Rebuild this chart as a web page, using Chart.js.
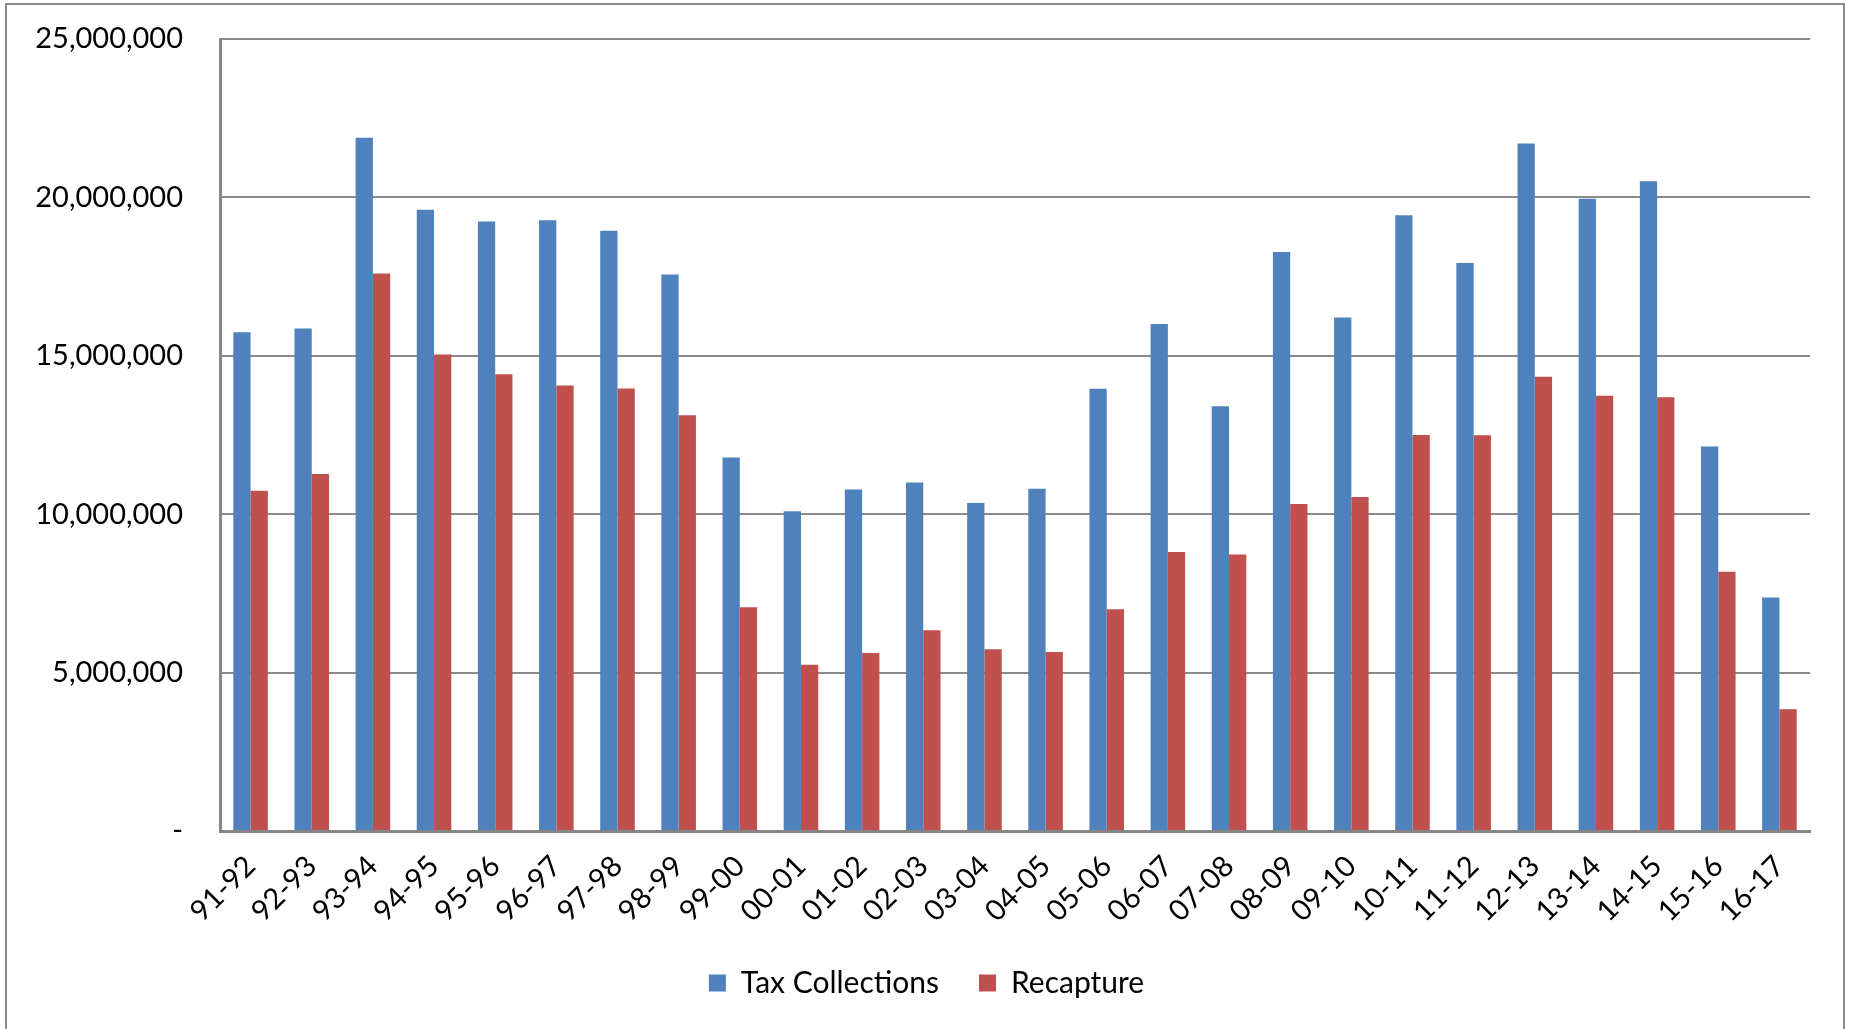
<!DOCTYPE html>
<html>
<head>
<meta charset="utf-8">
<script src="https://cdn.jsdelivr.net/npm/chart.js@4.4.1/dist/chart.umd.min.js"></script>
<style>
  body { margin: 0; background: #fff; }
  #wrap { position: relative; width: 1853px; height: 1029px; overflow: hidden; }
  #frame { position: absolute; left: 5px; top: 3px; width: 1840px; height: 1060px; border: 2px solid #8c8c8c; box-sizing: border-box; }
  canvas { position: absolute; left: 0; top: 0; }
</style>
</head>
<body>
<div id="wrap">
  <div id="frame"></div>
  <canvas id="mycanvas1" width="1853" height="1029"></canvas>
</div>
<script>
// school years
var years = ['91-92','92-93','93-94','94-95','95-96','96-97','97-98','98-99','99-00','00-01',
  '01-02','02-03','03-04','04-05','05-06','06-07','07-08','08-09','09-10','10-11',
  '11-12','12-13','13-14','14-15','15-16','16-17'];

var taxCollections = [15740000, 15860000, 21880000, 19610000, 19240000, 19280000, 18950000, 17570000, 11790000, 10090000,
  10780000, 11000000, 10350000, 10800000, 13960000, 16000000, 13410000, 18280000, 16210000, 19440000,
  17930000, 21700000, 19960000, 20510000, 12140000, 7370000];

var recapture = [10740000, 11270000, 17600000, 15040000, 14420000, 14060000, 13970000, 13120000, 7060000, 5250000,
  5620000, 6340000, 5740000, 5650000, 7000000, 8810000, 8730000, 10320000, 10540000, 12500000,
  12490000, 14340000, 13740000, 13690000, 8180000, 3840000];

var yTicks = [0, 5000000, 10000000, 15000000, 20000000, 25000000];

var fontFam = 'Lato, "Open Sans", sans-serif';

var chartdata = {
  labels: years,
  datasets: [
    { label: 'Tax Collections', data: taxCollections, backgroundColor: '#4F81BD' },
    { label: 'Recapture', data: recapture, backgroundColor: '#C0504D' }
  ]
};

var ctx = document.getElementById('mycanvas1');
var barGraph = new Chart(ctx, {
  type: 'bar',
  data: chartdata,
  options: {
    responsive: false,
    animation: false,
    layout: { padding: { top: 39, right: 0, bottom: 21, left: 0 } },
    datasets: { bar: { categoryPercentage: 0.565, barPercentage: 1.0 } },
    plugins: {
      tooltip: { enabled: false },
      legend: {
        position: 'bottom',
        labels: {
          font: { family: fontFam, size: 30 },
          color: '#000',
          boxWidth: 17,
          boxHeight: 17,
          padding: 40
        }
      }
    },
    scales: {
      x: {
        grid: { display: false, drawTicks: false },
        border: { display: true, color: '#868686', width: 3 },
        ticks: {
          autoSkip: false,
          maxRotation: 45,
          minRotation: 45,
          padding: 18,
          color: '#000',
          font: { family: fontFam, size: 29 }
        },
        afterFit: function(scale) { scale.height = 97; }
      },
      y: {
        min: 0,
        max: 25000000,
        afterBuildTicks: function(scale) {
          scale.ticks = yTicks.map(function(v) { return { value: v }; });
        },
        grid: { color: '#8a8a8a', lineWidth: 2, drawTicks: true, tickLength: 32, tickColor: 'rgba(0,0,0,0)' },
        border: { display: true, color: '#868686', width: 3 },
        ticks: {
          padding: 5,
          color: '#000',
          font: { family: fontFam, size: 29 },
          callback: function(v) { return v === 0 ? '-' : v.toLocaleString('en-US'); }
        },
        afterFit: function(scale) { scale.width = 220; }
      },
      // empty right margin so the legend stays centred on the whole picture
      yRight: {
        position: 'right',
        grid: { display: false, drawTicks: false },
        border: { display: false },
        ticks: { display: false },
        afterFit: function(scale) { scale.width = 43; }
      }
    }
  }
});
</script>
</body>
</html>
